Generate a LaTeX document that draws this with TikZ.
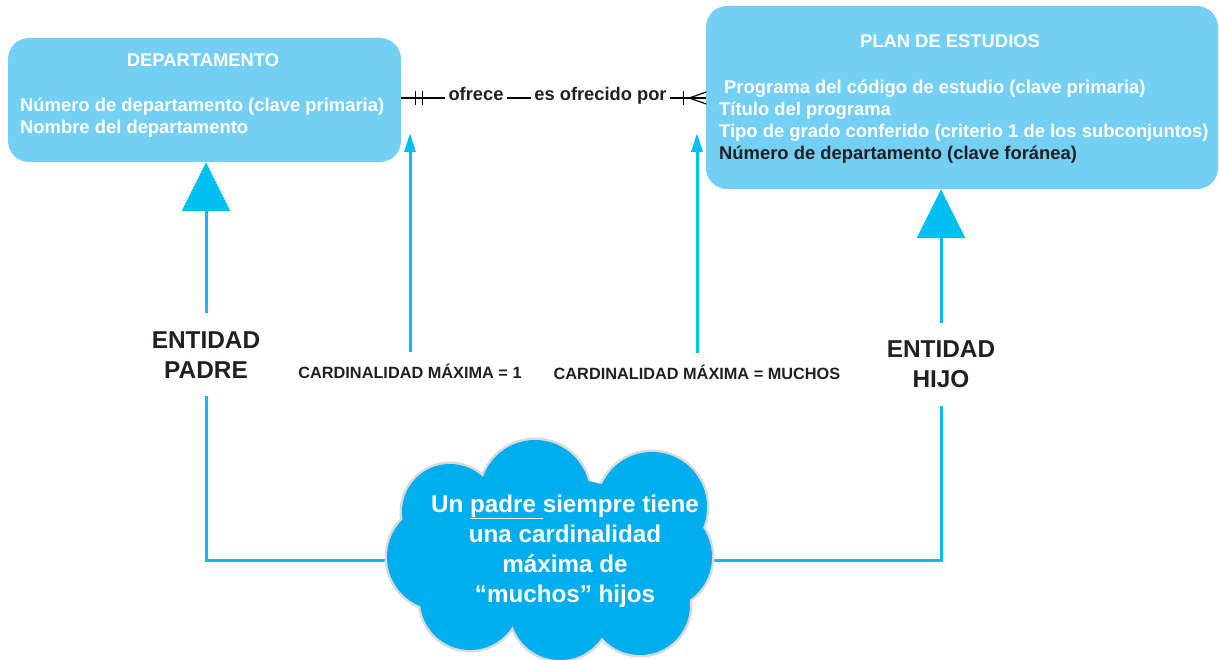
\documentclass[tikz,border=0pt]{standalone}
\usepackage{fontspec}
\setmainfont{Liberation Sans}
\usepackage{xcolor}
\usepackage{tikz}
\usetikzlibrary{arrows.meta,positioning,decorations.markings,backgrounds}

\definecolor{cajaazul}{HTML}{73CFF4}
\definecolor{lineaazul}{HTML}{00BFF3}
\definecolor{nubeazul}{HTML}{00AEEF}
\definecolor{nubeborde}{HTML}{D9D9D9}
\definecolor{oscuro}{HTML}{231F20}

\newcommand{\bollos}{%
  535/495/55, 450/512/48, 652/507/55, 660/557/52, 640/605/50,
  560/610/50, 470/600/50, 440/557/53}

\begin{document}
\begin{tikzpicture}[x=1pt, y=-1pt,
  ent/.style={fill=cajaazul, rounded corners=21pt, inner sep=0pt},
  tit/.style={text=white, font=\fontsize{18.4}{20}\selectfont\bfseries, inner sep=0pt, anchor=base},
  atr/.style={text=white, font=\fontsize{18.4}{22}\selectfont\bfseries, align=left,
              inner sep=0pt, anchor=north west},
  rol/.style={text=oscuro, font=\fontsize{18.3}{20}\selectfont\bfseries, inner xsep=3.5pt,
              inner ysep=0pt, anchor=mid},
  etq/.style={text=oscuro, font=\fontsize{24.4}{30}\selectfont\bfseries, align=center,
              inner sep=0pt, outer ysep=18pt},
  card/.style={text=oscuro, font=\fontsize{16.3}{18}\selectfont\bfseries, inner sep=0pt,
               text height=11pt, outer ysep=16pt, anchor=base},
  msg/.style={text=white, font=\fontsize{24.2}{30}\selectfont\bfseries, align=center, inner sep=0pt},
  conn/.style={draw=lineaazul, line width=3pt},
  flecha/.style={conn, -{Triangle[length=49pt, width=48pt]}},
  flechita/.style={conn, -{Triangle[length=19pt, width=11pt]}},
  rel/.style={draw=black, line width=1.2pt},
  unouno/.style={postaction={decorate}, decoration={markings,
      mark=at position 14pt with {\draw[rel] (0,-7pt) -- (0,7pt);},
      mark=at position 21pt with {\draw[rel] (0,-7pt) -- (0,7pt);}}},
  unomuchos/.style={postaction={decorate}, decoration={markings,
      mark=at position 13pt with {\draw[rel] (0,-7pt) -- (0,7pt);},
      mark=at position 19pt with {\draw[rel] (17pt,-6pt) -- (0,0) -- (17pt,6pt);}}}]
\useasboundingbox (0,0) rectangle (1219,660);

% entidades
\node[ent, minimum width=393pt, minimum height=124pt] (dep) at (204.5,100) {};
\node[tit] (depT) at (203,67) {DEPARTAMENTO};
\node[atr] (depA) at (20,98.3) {Número de departamento (clave primaria)\\Nombre del departamento};

\node[ent, minimum width=512pt, minimum height=183pt] (plan) at (962,97.5) {};
\node[tit] (planT) at (950,48) {PLAN DE ESTUDIOS};
\node[atr] (planA) at (719,79.7) {\hspace*{5pt}Programa del código de estudio (clave primaria)\\
  Título del programa\\Tipo de grado conferido (criterio 1 de los subconjuntos)\\
  \textcolor{oscuro}{Número de departamento (clave foránea)}};

% relacion
\node[rol] (ofr) at (476,98) {ofrece};
\node[rol] (esof) at (600.5,98) {es ofrecido por};
\draw[rel, unouno] (dep.east |- ofr.mid) -- (ofr.mid west);
\draw[rel] (ofr.mid east) -- (esof.mid west);
\draw[rel, unomuchos] (esof.mid east) -- (plan.west |- esof.mid);

% etiquetas
\node[etq] (padre) at (206,354.7) {ENTIDAD\\PADRE};
\node[etq] (hijo) at (941,364.7) {ENTIDAD\\HIJO};
\node[card] (card1) at (410,379) {CARDINALIDAD MÁXIMA = 1};
\node[card] (card2) at (697,380) {CARDINALIDAD MÁXIMA = MUCHOS};
\coordinate (punta) at (550,133);

% nube
\coordinate (nb) at (548,560);
\foreach \cx/\cy/\r in \bollos \draw[nubeborde, line width=5pt] (\cx,\cy) circle[radius=\r];
\foreach \cx/\cy/\r in \bollos \fill[nubeazul] (\cx,\cy) circle[radius=\r];
\fill[nubeazul] (548,552) ellipse[x radius=125, y radius=75];
\node[msg] (txt) at (565,551) {Un \underline{padre\ }siempre tiene\\una cardinalidad\\máxima de\\“muchos” hijos};

\begin{scope}[on background layer]
\draw[conn] (nb) -| (padre.south);
\draw[conn] (nb) -| (hijo.south);
\end{scope}
\draw[flecha] (padre.north) -- (padre.north |- dep.south);
\draw[flecha] (hijo.north) -- (hijo.north |- plan.south);
\draw[flechita] (card1.north) -- (card1.north |- punta);
\draw[flechita] (card2.north) -- (card2.north |- punta);
\end{tikzpicture}
\end{document}
